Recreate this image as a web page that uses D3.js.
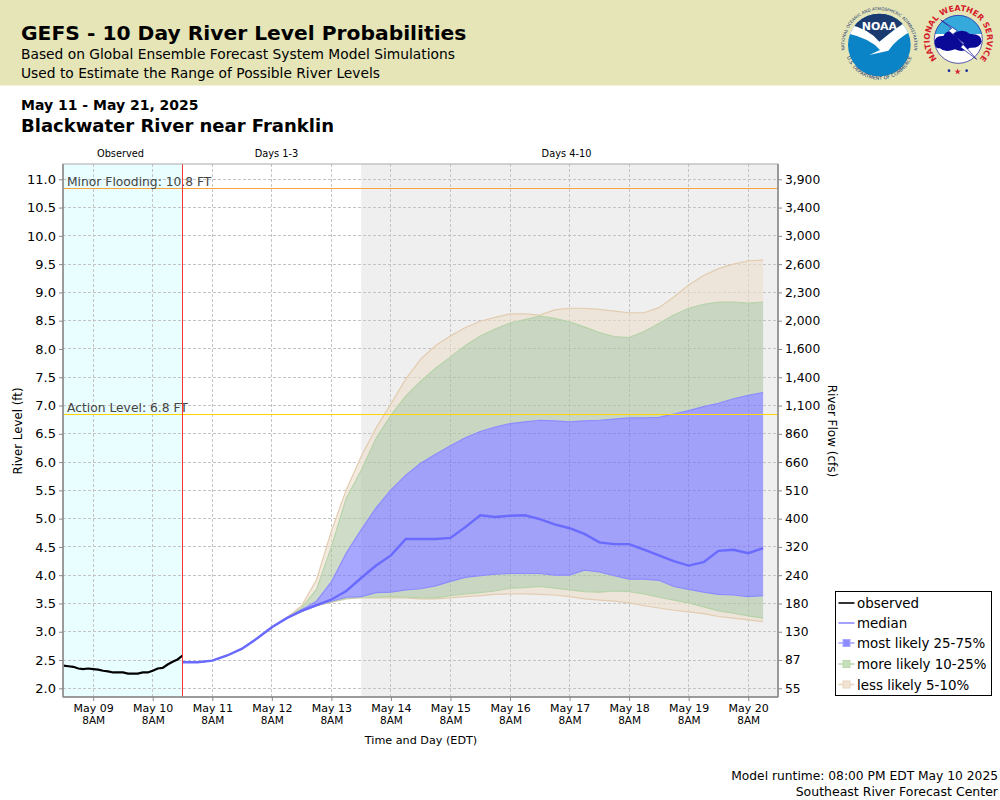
<!DOCTYPE html>
<html><head><meta charset="utf-8">
<script src="https://cdn.jsdelivr.net/npm/d3@7/dist/d3.min.js"></script>
<style>html,body{margin:0;padding:0;background:#fff}svg{display:block}text{font-family:"DejaVu Sans",sans-serif;fill:#000}</style>
</head><body><svg id="c" width="1000" height="800"></svg>
<script>
// ---------- data ----------
const levelTicks=[2,2.5,3,3.5,4,4.5,5,5.5,6,6.5,7,7.5,8,8.5,9,9.5,10,10.5,11];
const flowTickLabels=["55","87","130","180","240","320","400","510","660","860","1,100","1,400","1,600","2,000","2,300","2,600","3,000","3,400","3,900"];
const dayTicks=["2025-05-09","2025-05-10","2025-05-11","2025-05-12","2025-05-13","2025-05-14","2025-05-15","2025-05-16","2025-05-17","2025-05-18","2025-05-19","2025-05-20"];
const observedHours=[-24,-22,-20,-18,-16,-14,-12,-10,-8,-6,-4,-2,0,2,4,6,8,10,12,14,16,18,20,22,24];
const observed=[2.40,2.39,2.38,2.35,2.34,2.35,2.34,2.33,2.31,2.30,2.28,2.28,2.28,2.26,2.26,2.26,2.28,2.28,2.31,2.35,2.36,2.42,2.47,2.51,2.58];
const median=[2.46,2.46,2.49,2.58,2.70,2.88,3.08,3.24,3.37,3.47,3.57,3.72,3.95,4.17,4.35,4.64,4.64,4.64,4.66,4.85,5.06,5.03,5.05,5.06,4.99,4.90,4.83,4.73,4.58,4.55,4.55,4.45,4.35,4.25,4.17,4.23,4.43,4.45,4.39,4.48];
const p75=[2.46,2.46,2.49,2.58,2.70,2.88,3.08,3.24,3.39,3.54,3.88,4.39,4.80,5.19,5.51,5.77,5.98,6.14,6.29,6.43,6.54,6.62,6.68,6.71,6.74,6.73,6.71,6.73,6.74,6.76,6.78,6.78,6.79,6.85,6.91,6.98,7.04,7.12,7.18,7.23];
const p90=[2.46,2.46,2.49,2.58,2.70,2.88,3.08,3.24,3.42,3.75,4.50,5.36,5.85,6.42,6.83,7.17,7.43,7.66,7.86,8.06,8.23,8.35,8.46,8.52,8.58,8.54,8.48,8.39,8.29,8.22,8.20,8.31,8.45,8.60,8.72,8.79,8.83,8.83,8.81,8.83];
const p95=[2.46,2.46,2.49,2.58,2.70,2.88,3.08,3.25,3.46,3.92,4.78,5.51,6.10,6.60,7.03,7.47,7.82,8.06,8.23,8.38,8.49,8.56,8.62,8.62,8.60,8.69,8.72,8.72,8.70,8.67,8.64,8.64,8.73,8.92,9.13,9.30,9.42,9.50,9.56,9.57];
const p25=[2.46,2.46,2.49,2.58,2.70,2.88,3.08,3.24,3.36,3.46,3.54,3.61,3.62,3.69,3.70,3.74,3.76,3.81,3.89,3.96,3.99,4.02,4.03,4.03,4.03,4.00,4.00,4.09,4.06,3.99,3.93,3.93,3.91,3.80,3.75,3.70,3.66,3.65,3.62,3.64];
const p10=[2.46,2.46,2.49,2.58,2.70,2.88,3.08,3.24,3.36,3.46,3.53,3.59,3.61,3.61,3.62,3.61,3.60,3.60,3.64,3.67,3.69,3.72,3.77,3.78,3.80,3.77,3.74,3.71,3.70,3.72,3.71,3.67,3.61,3.56,3.51,3.44,3.37,3.33,3.28,3.24];
const p5=[2.46,2.46,2.49,2.58,2.70,2.88,3.08,3.24,3.36,3.46,3.52,3.58,3.60,3.60,3.60,3.60,3.58,3.58,3.60,3.62,3.64,3.66,3.67,3.67,3.66,3.65,3.62,3.58,3.56,3.54,3.51,3.46,3.42,3.38,3.35,3.32,3.27,3.24,3.21,3.18];
const legendLabels=["observed","median","most likely 25-75%","more likely 10-25%","less likely 5-10%"];
const minorLevel=10.84, actionLevel=6.85;

// ---------- setup ----------
const svg=d3.select("#c");
const M={l:63,r:778,t:164,b:697};
const x=d3.scaleUtc().domain([new Date("2025-05-08T19:50:00Z"),new Date("2025-05-20T20:00:00Z")]).range([M.l,M.r]);
const y=d3.scaleLinear().domain([2,11]).range([688.3,179.3]);
const obsStart=new Date("2025-05-09T20:00:00Z").getTime();
const fcStart=new Date("2025-05-10T20:00:00Z").getTime();
const HR=3600000;
const obsT=observedHours.map(h=>new Date(obsStart+h*HR));
const fcT=median.map((_,i)=>new Date(fcStart+i*6*HR));
const now=new Date(fcStart), grayStart=new Date(fcStart+72*HR);

// header
svg.append("rect").attr("width",1000).attr("height",85.5).attr("fill","#e5e5b8");
svg.append("text").attr("x",21).attr("y",40).attr("font-size",20.25).attr("font-weight","bold").text("GEFS - 10 Day River Level Probabilities");
svg.append("text").attr("x",21).attr("y",59).attr("font-size",13.8).text("Based on Global Ensemble Forecast System Model Simulations");
svg.append("text").attr("x",21).attr("y",78).attr("font-size",13.8).text("Used to Estimate the Range of Possible River Levels");
svg.append("text").attr("x",21).attr("y",110).attr("font-size",14).attr("font-weight","bold").text("May 11 - May 21, 2025");
svg.append("text").attr("x",21).attr("y",132).attr("font-size",18).attr("font-weight","bold").text("Blackwater River near Franklin");

// logos
const defs=svg.append("defs");
defs.append("clipPath").attr("id","noaaClip").append("circle").attr("cx",118).attr("cy",135).attr("r",94);
defs.append("clipPath").attr("id","nwsClip").append("circle").attr("cx",355).attr("cy",118).attr("r",72);
defs.append("path").attr("id","noaaTop").attr("d","M 14,150 A 105,105 0 1 1 222,150");
defs.append("path").attr("id","noaaBot").attr("d","M 20,170 A 104,104 0 0 0 216,170");
defs.append("path").attr("id","nwsRing").attr("d","M 303,187 A 86,86 0 1 1 407,187");
const L=svg.append("g").attr("transform","translate(840,0) scale(0.3333)");
const N=L.append("g").attr("clip-path","url(#noaaClip)");
N.append("rect").attr("x",20).attr("y",40).attr("width",200).attr("height",190).attr("fill","#0a84c6");
N.append("path").attr("d","M 20,30 L 220,30 L 220,50 Q 165,85 118,125 Q 80,85 20,72 Z").attr("fill","#1b3a70");
N.append("path").attr("d","M 20,72 Q 85,85 118,125 Q 165,85 220,50 L 220,90 Q 170,115 145,152 L 88,165 L 120,150 Q 90,115 20,100 Z").attr("fill","#fff");
L.append("text").attr("x",118).attr("y",90).attr("text-anchor","middle").attr("font-size",33).attr("font-weight","bold").style("fill","#fff").text("NOAA");
L.append("text").attr("font-size",12.5).style("fill","#1b3a70").append("textPath").attr("href","#noaaTop").attr("startOffset","50%").attr("text-anchor","middle").text("NATIONAL OCEANIC AND ATMOSPHERIC ADMINISTRATION");
L.append("text").attr("font-size",15).style("fill","#1b3a70").append("textPath").attr("href","#noaaBot").attr("startOffset","50%").attr("text-anchor","middle").text("U.S. DEPARTMENT OF COMMERCE");
const W=L.append("g").attr("clip-path","url(#nwsClip)");
W.append("rect").attr("x",280).attr("y",40).attr("width",150).attr("height",150).attr("fill","#fff");
W.append("rect").attr("x",280).attr("y",40).attr("width",150).attr("height",62).attr("fill","#36a9dc");
W.append("path").attr("d","M 282,130 Q 285,105 310,108 Q 320,88 345,98 Q 370,85 390,102 Q 425,100 425,125 Q 420,145 390,143 Q 370,160 345,148 Q 315,160 300,145 Q 285,145 282,130 Z").attr("fill","#0a0a96");
L.append("path").attr("d","M 302,60 L 352,92 L 340,102 L 385,150 L 410,178 L 362,142 L 372,130 L 325,92 L 335,85 Z").attr("fill","#fff").attr("stroke","#0a0a96").attr("stroke-width",2);
L.append("circle").attr("cx",355).attr("cy",118).attr("r",72).attr("fill","none").attr("stroke","#0a0a96").attr("stroke-width",2);
L.append("text").attr("font-size",24).attr("font-weight","bold").style("fill","#d5202a").append("textPath").attr("href","#nwsRing").attr("startOffset","50%").attr("text-anchor","middle").text("NATIONAL WEATHER SERVICE");
L.append("circle").attr("cx",327).attr("cy",212).attr("r",4).attr("fill","#1a2a9a");
L.append("circle").attr("cx",380).attr("cy",212).attr("r",4).attr("fill","#1a2a9a");
L.append("path").attr("d",d3.symbol(d3.symbolStar,110)()).attr("transform","translate(353,215)").attr("fill","#d5202a");

// section captions
[["Observed",120.5],["Days 1-3",276.5],["Days 4-10",566.5]].forEach(d=>{
  svg.append("text").attr("x",d[1]).attr("y",157).attr("text-anchor","middle").attr("font-size",9.8).text(d[0]);
});

// backgrounds
svg.append("rect").attr("x",M.l).attr("y",M.t).attr("width",x(now)-M.l).attr("height",M.b-M.t).attr("fill","#e9feff");
svg.append("rect").attr("x",x(grayStart)).attr("y",M.t).attr("width",M.r-x(grayStart)).attr("height",M.b-M.t).attr("fill","#efefef");

// grid
const tickDates=dayTicks.map(d=>new Date(d+"T08:00:00Z"));
const grid=svg.append("g").attr("stroke","#c4c4c4").attr("stroke-width",1).attr("stroke-dasharray","3,2").attr("shape-rendering","crispEdges");
grid.selectAll(".h").data(levelTicks).join("line").attr("x1",M.l).attr("x2",M.r).attr("y1",d=>y(d)).attr("y2",d=>y(d));
grid.selectAll(".v").data(tickDates).join("line").attr("x1",d=>x(d)).attr("x2",d=>x(d)).attr("y1",M.t).attr("y2",M.b);

// bands
const band=(lo,hi)=>d3.area().x((d,i)=>x(fcT[i])).y0((d,i)=>y(lo[i])).y1((d,i)=>y(hi[i]))(median);
const edge=a=>d3.line().x((d,i)=>x(fcT[i])).y(d=>y(d))(a);
function addBand(lo,hi,fill){svg.append("path").attr("d",band(lo,hi)).attr("fill",fill).attr("fill-opacity",.6);}
addBand(p5,p10,"#ecdecc");addBand(p90,p95,"#ecdecc");
addBand(p10,p25,"#aec5a4");addBand(p75,p90,"#aec5a4");
addBand(p25,p75,"#6c6cff");
[[p5,"#e2ccb0"],[p95,"#e2ccb0"],[p10,"#b7d3a9"],[p90,"#b7d3a9"],[p25,"#8c8cff"],[p75,"#8c8cff"]].forEach(d=>{
  svg.append("path").attr("d",edge(d[0])).attr("fill","none").attr("stroke",d[1]).attr("stroke-width",1.2);
});

// threshold lines
svg.append("line").attr("x1",M.l).attr("x2",M.r).attr("y1",y(minorLevel)).attr("y2",y(minorLevel)).attr("stroke","#fba43c").attr("stroke-width",1).attr("shape-rendering","crispEdges");
svg.append("line").attr("x1",M.l).attr("x2",M.r).attr("y1",y(actionLevel)).attr("y2",y(actionLevel)).attr("stroke","#ffd400").attr("stroke-width",1).attr("shape-rendering","crispEdges");
svg.append("text").attr("x",67).attr("y",186).attr("font-size",12.3).style("fill","#444").text("Minor Flooding: 10.8 FT");
svg.append("text").attr("x",67).attr("y",412).attr("font-size",12.3).style("fill","#444").text("Action Level: 6.8 FT");

// median, observed, now
svg.append("path").attr("d",edge(median)).attr("fill","none").attr("stroke","#6a6aff").attr("stroke-width",2.4);
svg.append("path").attr("d",d3.line().x((d,i)=>x(obsT[i])).y(d=>y(d))(observed)).attr("fill","none").attr("stroke","#000").attr("stroke-width",2.2);
svg.append("line").attr("x1",x(now)).attr("x2",x(now)).attr("y1",M.t).attr("y2",M.b).attr("stroke","#f33").attr("stroke-width",1).attr("shape-rendering","crispEdges");

// frame + axes
svg.append("rect").attr("x",M.l).attr("y",M.t).attr("width",M.r-M.l).attr("height",M.b-M.t).attr("fill","none").attr("stroke","#aaa");
function styleAxis(g){g.select(".domain").attr("stroke","#888").attr("stroke-width",1.5);g.selectAll(".tick line").attr("stroke","#888");g.selectAll("text").style("font-family",'"DejaVu Sans",sans-serif').style("fill","#000");}
const yL=svg.append("g").attr("transform",`translate(${M.l},0)`).call(d3.axisLeft(y).tickValues(levelTicks).tickFormat(d3.format(".1f")).tickSize(4).tickPadding(3));
yL.select(".domain").attr("d",`M0,${M.t}V${M.b}`);
yL.style("font-size","13px");styleAxis(yL);
const yR=svg.append("g").attr("transform",`translate(${M.r},0)`).call(d3.axisRight(y).tickValues(levelTicks).tickFormat((d,i)=>flowTickLabels[i]).tickSize(4).tickPadding(3));
yR.select(".domain").attr("d",`M0,${M.t}V${M.b}`);
yR.style("font-size","12.3px");styleAxis(yR);
const xA=svg.append("g").attr("transform",`translate(0,${M.b})`).call(d3.axisBottom(x).tickValues(tickDates).tickFormat(d3.utcFormat("%b %d")).tickSize(4).tickPadding(3));
xA.select(".domain").attr("d",`M${M.l},0H${M.r}`);
xA.style("font-size","11px");styleAxis(xA);
xA.selectAll(".tick").append("text").attr("y",19.5).attr("dy","0.71em").attr("text-anchor","middle").attr("font-size",10.5).text(d3.utcFormat("%-I%p")(tickDates[0]));

// axis titles
svg.append("text").attr("transform","translate(22,431) rotate(-90)").attr("text-anchor","middle").attr("font-size",11.8).text("River Level (ft)");
svg.append("text").attr("transform","translate(827.5,431) rotate(90)").attr("text-anchor","middle").attr("font-size",12).text("River Flow (cfs)");
svg.append("text").attr("x",421).attr("y",744).attr("text-anchor","middle").attr("font-size",11.2).text("Time and Day (EDT)");

// legend
svg.append("rect").attr("x",835.5).attr("y",591.5).attr("width",156).attr("height",104).attr("fill","#fff").attr("stroke","#000");
const legendLine=["#000","#8c8cff","#a8a8ff","#bcd8ae","#e8d4bc"];
const legendBox=[null,null,"#8c8cff","#c6e0ba","#f0e4d4"];
const legendY=[603,623,643,664,684.5];
legendLabels.forEach((t,i)=>{
  svg.append("line").attr("x1",838.5).attr("x2",854.5).attr("y1",legendY[i]).attr("y2",legendY[i]).attr("stroke",legendLine[i]).attr("stroke-width",1.6);
  if(legendBox[i])svg.append("rect").attr("x",843).attr("y",legendY[i]-3.5).attr("width",7).attr("height",7).attr("fill",legendBox[i]).attr("stroke",legendLine[i]);
  svg.append("text").attr("x",857).attr("y",legendY[i]+5).attr("font-size",13.4).text(t);
});

// footer
svg.append("text").attr("x",998).attr("y",780).attr("text-anchor","end").attr("font-size",12.27).text("Model runtime: 08:00 PM EDT May 10 2025");
svg.append("text").attr("x",998).attr("y",796).attr("text-anchor","end").attr("font-size",12.5).text("Southeast River Forecast Center");
</script></body></html>
